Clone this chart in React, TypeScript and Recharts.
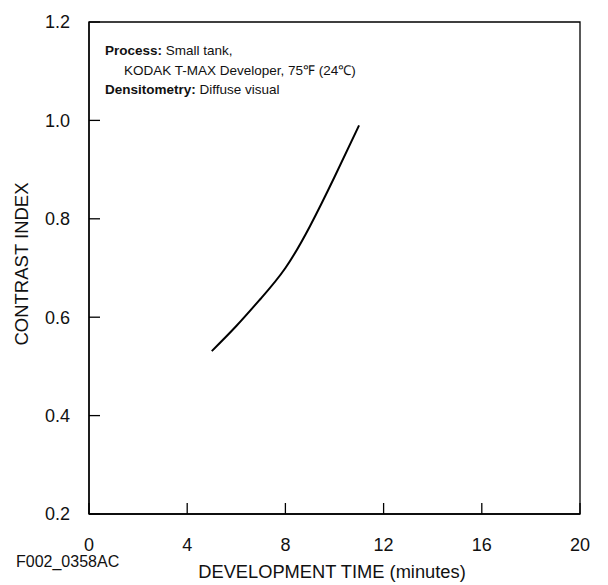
import { LineChart, Line, XAxis, YAxis, ReferenceArea } from 'recharts'

// development time (minutes) vs contrast index
const devTimes = [5, 6, 7, 8, 9, 10, 11]
const contrastIndex = [0.531, 0.582, 0.638, 0.7, 0.785, 0.885, 0.99]

const xTicks = [0, 4, 8, 12, 16, 20]
const yTicks = [0.2, 0.4, 0.6, 0.8, 1.0, 1.2]

const FONT = '"Liberation Sans", Arial, Helvetica, sans-serif'

const data = devTimes.map((t, i) => ({ t, ci: contrastIndex[i] }))

export default function App() {
  return (
    <div style={{ position: 'absolute', left: 0, top: 0, width: 608, height: 585, fontFamily: FONT, background: '#fff' }}>
      <LineChart
        width={608}
        height={585}
        data={data}
        margin={{ top: 22, right: 28, bottom: 0, left: 0 }}
      >
        <XAxis
          dataKey="t"
          type="number"
          domain={[0, 20]}
          ticks={xTicks}
          height={71}
          tickSize={-11}
          tickMargin={35}
          stroke="#000"
          strokeWidth={1.3}
          tick={{ fontSize: 18, fill: '#111', fontFamily: FONT }}
        />
        <YAxis
          type="number"
          domain={[0.2, 1.2]}
          ticks={yTicks}
          width={89}
          tickSize={-11}
          tickMargin={30}
          stroke="#000"
          strokeWidth={1.3}
          tickFormatter={(v: number) => v.toFixed(1)}
          tick={{ fontSize: 18, fill: '#111', fontFamily: FONT }}
        />
        <ReferenceArea
          x1={0}
          x2={20}
          y1={0.2}
          y2={1.2}
          fill="none"
          fillOpacity={0}
          stroke="#000"
          strokeWidth={1.3}
          ifOverflow="visible"
        />
        <Line
          type="natural"
          dataKey="ci"
          stroke="#000"
          strokeWidth={2}
          dot={false}
          isAnimationActive={false}
        />
      </LineChart>

      <svg
        width={608}
        height={585}
        style={{ position: 'absolute', left: 0, top: 0, pointerEvents: 'none' }}
      >
        <g fontFamily={FONT} fill="#111">
          <text x={105} y={55} fontSize={13.5}>
            <tspan fontWeight="bold">Process:</tspan> Small tank,
          </text>
          <text x={124} y={74.5} fontSize={13.5}>
            KODAK T-MAX Developer, 75℉ (24℃)
          </text>
          <text x={105} y={94} fontSize={13.5}>
            <tspan fontWeight="bold">Densitometry:</tspan> Diffuse visual
          </text>
          <text x={16} y={567} fontSize={16}>F002_0358AC</text>
          <text x={332} y={577.7} fontSize={18.3} textAnchor="middle">DEVELOPMENT TIME (minutes)</text>
          <text x={28} y={264} fontSize={18.5} textAnchor="middle" transform="rotate(-90 28 264)">
            CONTRAST INDEX
          </text>
        </g>
      </svg>
    </div>
  )
}
